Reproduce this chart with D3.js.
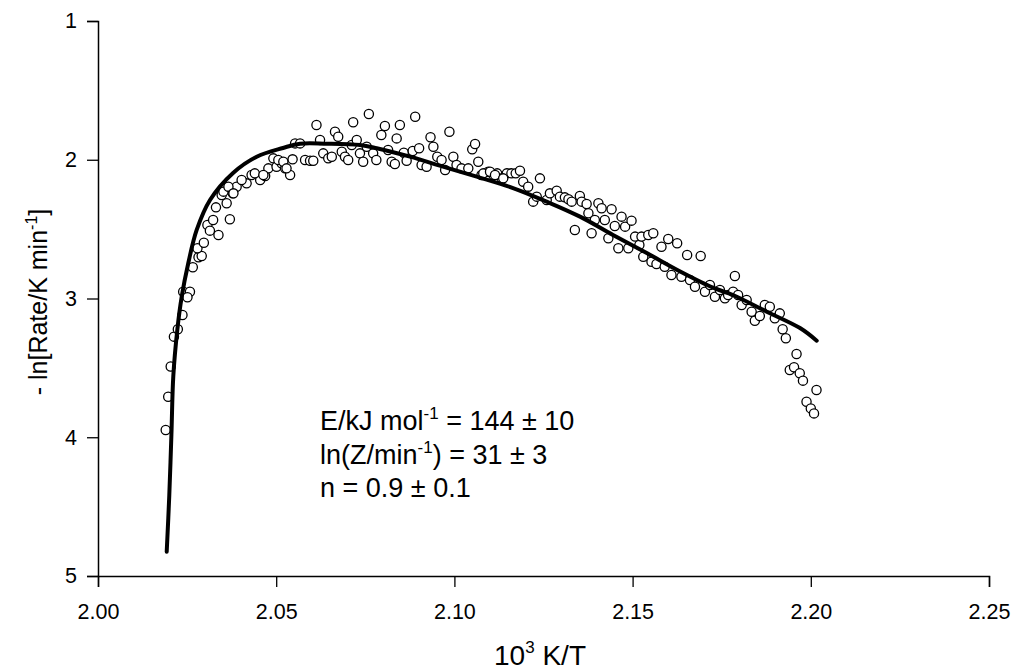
<!DOCTYPE html>
<html>
<head>
<meta charset="utf-8">
<script src="https://cdn.jsdelivr.net/npm/d3@7/dist/d3.min.js"></script>
<style>
  html, body { margin: 0; padding: 0; background: #fff; }
  svg { display: block; }
  text { font-family: "Liberation Sans", Arial, sans-serif; fill: #000; }
</style>
</head>
<body>
<svg id="chart" width="1014" height="671"></svg>
<script>
// ---------- data ----------
const xTicks = [2.00, 2.05, 2.10, 2.15, 2.20, 2.25];
const yTicks = [1, 2, 3, 4, 5];

// measured points: 10^3 K/T
const pointX = [
  2.0190, 2.0197, 2.0204, 2.0213, 2.0224, 2.0237, 2.0239, 2.0258, 2.0251, 2.0266,
  2.0282, 2.0291, 2.0279, 2.0297, 2.0307, 2.0323, 2.0314, 2.0338, 2.0370, 2.0331,
  2.0361, 2.0347, 2.0378, 2.0389, 2.0417, 2.0455, 2.0352, 2.0366, 2.0380, 2.0403,
  2.0431, 2.0440, 2.0469, 2.0478, 2.0492, 2.0501, 2.0515, 2.0525, 2.0539, 2.0546,
  2.0553, 2.0464, 2.0506, 2.0520, 2.0529, 2.0567, 2.0581, 2.0595, 2.0604, 2.0613,
  2.0623, 2.0632, 2.0646, 2.0656, 2.0665, 2.0674, 2.0684, 2.0693, 2.0702, 2.0712,
  2.0716, 2.0726, 2.0735, 2.0744, 2.0754, 2.0760, 2.0772, 2.0781, 2.0795, 2.0805,
  2.0814, 2.0824, 2.0833, 2.0838, 2.0847, 2.0858, 2.0866, 2.0883, 2.0890, 2.0901,
  2.0908, 2.0922, 2.0933, 2.0941, 2.0952, 2.0964, 2.0974, 2.0986, 2.0997, 2.1006,
  2.1020, 2.1039, 2.1050, 2.1058, 2.1067, 2.1076, 2.1095, 2.1109, 2.1120, 2.1133,
  2.1147, 2.1081, 2.1100, 2.1114, 2.1137, 2.1160, 2.1172, 2.1184, 2.1193, 2.1207,
  2.1221, 2.1231, 2.1240, 2.1259, 2.1268, 2.1287, 2.1296, 2.1310, 2.1320, 2.1329,
  2.1338, 2.1352, 2.1357, 2.1371, 2.1376, 2.1385, 2.1394, 2.1404, 2.1413, 2.1422,
  2.1432, 2.1441, 2.1450, 2.1460, 2.1469, 2.1479, 2.1488, 2.1497, 2.1507, 2.1519,
  2.1530, 2.1525, 2.1544, 2.1558, 2.1553, 2.1567, 2.1581, 2.1590, 2.1600, 2.1609,
  2.1625, 2.1637, 2.1653, 2.1661, 2.1675, 2.1691, 2.1703, 2.1717, 2.1731, 2.1745,
  2.1759, 2.1768, 2.1782, 2.1787, 2.1796, 2.1806, 2.1820, 2.1834, 2.1843, 2.1857,
  2.1871, 2.1885, 2.1899, 2.1913, 2.1921, 2.1930, 2.1960, 2.1941, 2.1953, 2.1969,
  2.1978, 2.2016, 2.1988, 2.2000, 2.2009
];
// measured points: -ln[Rate/K min^-1]
const pointY = [
  3.948, 3.708, 3.490, 3.275, 3.222, 3.119, 2.951, 2.951, 2.991, 2.775,
  2.703, 2.694, 2.638, 2.598, 2.470, 2.434, 2.511, 2.542, 2.429, 2.343,
  2.314, 2.254, 2.242, 2.194, 2.170, 2.146, 2.230, 2.194, 2.242, 2.146,
  2.110, 2.098, 2.117, 2.062, 1.990, 2.050, 2.026, 2.062, 2.110, 1.997,
  1.882, 2.110, 2.002, 2.014, 2.062, 1.882, 2.002, 2.007, 2.007, 1.750,
  1.858, 1.954, 1.990, 1.978, 1.798, 1.834, 1.942, 1.978, 2.002, 1.894,
  1.730, 1.858, 1.954, 2.014, 1.906, 1.670, 1.954, 2.002, 1.822, 1.757,
  1.930, 2.014, 2.031, 1.846, 1.750, 1.949, 2.007, 1.937, 1.690, 1.917,
  2.038, 2.050, 1.838, 1.906, 1.978, 2.002, 2.074, 1.798, 1.978, 2.038,
  2.062, 2.062, 1.925, 1.886, 2.014, 2.110, 2.086, 2.110, 2.098, 2.134,
  2.098, 2.098, 2.086, 2.110, 2.134, 2.098, 2.098, 2.079, 2.158, 2.194,
  2.302, 2.266, 2.134, 2.290, 2.242, 2.223, 2.266, 2.271, 2.285, 2.302,
  2.506, 2.261, 2.302, 2.319, 2.386, 2.530, 2.434, 2.314, 2.350, 2.434,
  2.566, 2.357, 2.478, 2.638, 2.410, 2.482, 2.638, 2.439, 2.554, 2.614,
  2.699, 2.554, 2.542, 2.530, 2.735, 2.751, 2.627, 2.771, 2.571, 2.831,
  2.602, 2.843, 2.687, 2.867, 2.915, 2.694, 2.951, 2.903, 2.987, 2.939,
  2.999, 2.975, 2.951, 2.838, 2.975, 3.047, 3.011, 3.095, 3.160, 3.126,
  3.047, 3.059, 3.143, 3.107, 3.222, 3.287, 3.400, 3.515, 3.496, 3.539,
  3.592, 3.659, 3.744, 3.792, 3.828
];

// fitted curve
const fitX = [2.01928, 2.0200, 2.02060, 2.02113, 2.02225, 2.02349, 2.02534, 2.02769,
  2.03143, 2.03790, 2.04453, 2.05191, 2.05668, 2.06417, 2.07351, 2.07820, 2.08754,
  2.09680, 2.10626, 2.11645, 2.12590, 2.13524, 2.14450, 2.15396, 2.16349, 2.17275,
  2.17817, 2.18763, 2.19697, 2.20166];
const fitY = [4.825, 4.420, 3.980, 3.560, 3.227, 2.987, 2.744, 2.506,
  2.290, 2.095, 1.978, 1.915, 1.884, 1.884, 1.894, 1.917, 1.978,
  2.050, 2.122, 2.204, 2.302, 2.410, 2.542, 2.672, 2.807, 2.924,
  2.975, 3.095, 3.213, 3.304];

const annotation = [
  {main: "E/kJ mol", sup: "-1", rest: " = 144 \u00b1 10"},
  {main: "ln(Z/min", sup: "-1", rest: ") = 31 \u00b1 3"},
  {main: "n = 0.9 \u00b1 0.1", sup: "", rest: ""}
];

// ---------- layout ----------
const svg = d3.select("#chart");
const x = d3.scaleLinear().domain([2.00, 2.25]).range([98, 989]);
const y = d3.scaleLinear().domain([1, 5]).range([21, 576]);
const FONT = "'Liberation Sans', Arial, sans-serif";

// axes
const xAxis = d3.axisBottom(x).tickValues(xTicks).tickFormat(d3.format(".2f"))
  .tickSizeOuter(0).tickSize(11).tickPadding(17);
const gx = svg.append("g").attr("transform", `translate(0,${y(5)})`).call(xAxis);
gx.select(".domain").attr("stroke", "#000").attr("stroke-width", 1.5);
gx.selectAll(".tick line").attr("stroke", "#000").attr("stroke-width", 1.3);
gx.selectAll(".tick text").attr("font-size", 21.5).attr("font-family", FONT);

const yAxis = d3.axisLeft(y).tickValues(yTicks).tickFormat(d3.format("d"))
  .tickSizeOuter(0).tickSize(11).tickPadding(10);
const gy = svg.append("g").attr("transform", `translate(${x(2.00)},0)`).call(yAxis);
gy.select(".domain").attr("stroke", "#000").attr("stroke-width", 1.5);
gy.selectAll(".tick line").attr("stroke", "#000").attr("stroke-width", 1.3);
gy.selectAll(".tick text").attr("font-size", 21.5).attr("font-family", FONT);

// scatter points
const pts = pointX.map((v, i) => ({x: v, y: pointY[i]}));
svg.append("g").selectAll("circle").data(pts).join("circle")
  .attr("cx", d => x(d.x)).attr("cy", d => y(d.y)).attr("r", 4.6)
  .attr("fill", "#fff").attr("stroke", "#000").attr("stroke-width", 1.3);

// fitted curve
const fit = fitX.map((v, i) => ({x: v, y: fitY[i]}));
svg.append("path").datum(fit)
  .attr("d", d3.line().x(d => x(d.x)).y(d => y(d.y)).curve(d3.curveCatmullRom.alpha(0.5)))
  .attr("fill", "none").attr("stroke", "#000").attr("stroke-width", 4)
  .attr("stroke-linecap", "round").attr("stroke-linejoin", "round");

// annotation
const ann = svg.append("g").attr("font-size", 27);
annotation.forEach((a, i) => {
  const t = ann.append("text").attr("x", 320).attr("y", 430 + i * 33.5);
  t.append("tspan").text(a.main);
  if (a.sup) {
    t.append("tspan").attr("font-size", 17).attr("dy", -11).text(a.sup);
    t.append("tspan").attr("dy", 11).text(a.rest);
  }
});

// axis titles
const xt = svg.append("text").attr("x", 540).attr("y", 665)
  .attr("text-anchor", "middle").attr("font-size", 28);
xt.append("tspan").text("10");
xt.append("tspan").attr("font-size", 17).attr("dy", -12).text("3");
xt.append("tspan").attr("dy", 12).text(" K/T");

const yt = svg.append("text").attr("transform", "translate(47,302) rotate(-90)")
  .attr("text-anchor", "middle").attr("font-size", 25);
yt.append("tspan").text("- ln[Rate/K min");
yt.append("tspan").attr("font-size", 16).attr("dy", -10).text("-1");
yt.append("tspan").attr("dy", 10).text("]");
</script>
</body>
</html>
